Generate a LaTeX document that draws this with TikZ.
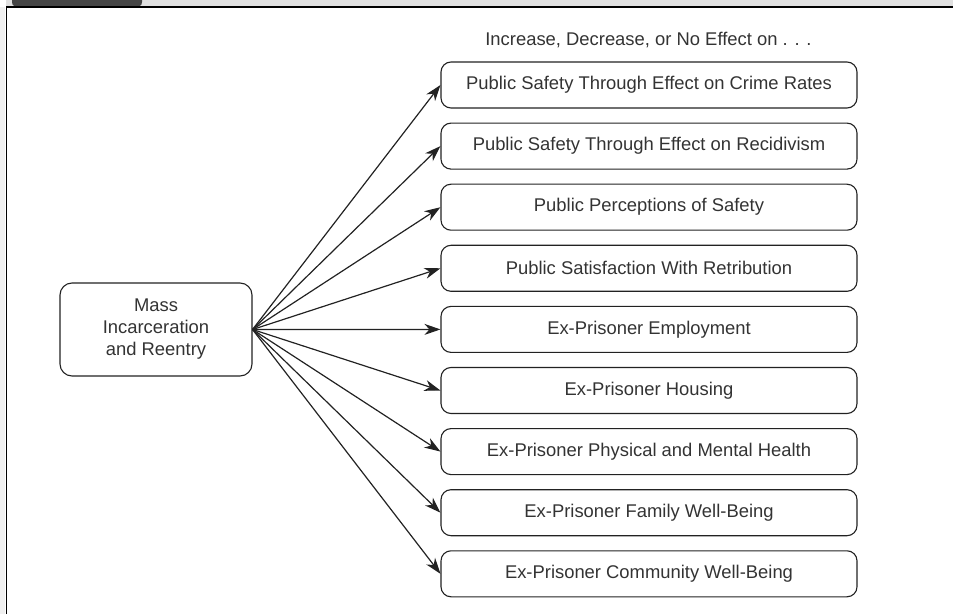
\documentclass[tikz,border=0pt]{standalone}
\usepackage{fontspec}
\setmainfont{Liberation Sans}
\usetikzlibrary{arrows.meta, positioning}
\definecolor{inkgray}{HTML}{333333}
\definecolor{linegray}{HTML}{222222}
\definecolor{bandgray}{HTML}{E0E0E0}
\definecolor{tabgray}{HTML}{454545}

\begin{document}
\begin{tikzpicture}[x=1pt, y=1pt, node distance=61.1pt, >={Stealth[length=16pt, width=11pt, inset=5pt]},
  every node/.style={font=\fontsize{18.4}{22}\selectfont, text=inkgray},
  effectbox/.style={draw=linegray, line width=1.1pt, rounded corners=10pt, minimum width=416pt, minimum height=46pt, inner sep=0pt}]
\useasboundingbox (0,0) rectangle (953,614);
% frame
\fill[bandgray] (6,607) rectangle (953,614);
\fill[tabgray] (12,614) -- (12,612) to[out=-90, in=180] (30,607.5) -- (124,607.5) to[out=0, in=-90] (142,612) -- (142,614) -- cycle;
\fill[gray!12] (0,0) rectangle (5,607);
\draw[black, line width=1.5pt] (6.5,0) -- (6.5,607) -- (953,607);
\node[draw=linegray, line width=1.1pt, rounded corners=12pt, align=center, minimum width=192pt, minimum height=93pt, inner sep=0pt] (mass) at (156,284.5) {Mass\\Incarceration\\and Reentry};
\node (heading) at (648.5,574) {Increase, Decrease, or No Effect on . . .};
\node[effectbox] (crime) at (649,529) {Public Safety Through Effect on Crime Rates};
\node[effectbox, below of=crime] (recid) {Public Safety Through Effect on Recidivism};
\node[effectbox, below of=recid] (percep) {Public Perceptions of Safety};
\node[effectbox, below of=percep] (retrib) {Public Satisfaction With Retribution};
\node[effectbox, below of=retrib] (employ) {Ex-Prisoner Employment};
\node[effectbox, below of=employ] (housing) {Ex-Prisoner Housing};
\node[effectbox, below of=housing] (health) {Ex-Prisoner Physical and Mental Health};
\node[effectbox, below of=health] (family) {Ex-Prisoner Family Well-Being};
\node[effectbox, below of=family] (commun) {Ex-Prisoner Community Well-Being};
\draw[->, linegray, line width=1.2pt] (mass.east) -- (crime.west);
\draw[->, linegray, line width=1.2pt] (mass.east) -- (recid.west);
\draw[->, linegray, line width=1.2pt] (mass.east) -- (percep.west);
\draw[->, linegray, line width=1.2pt] (mass.east) -- (retrib.west);
\draw[->, linegray, line width=1.2pt] (mass.east) -- (employ.west);
\draw[->, linegray, line width=1.2pt] (mass.east) -- (housing.west);
\draw[->, linegray, line width=1.2pt] (mass.east) -- (health.west);
\draw[->, linegray, line width=1.2pt] (mass.east) -- (family.west);
\draw[->, linegray, line width=1.2pt] (mass.east) -- (commun.west);
\end{tikzpicture}
\end{document}
